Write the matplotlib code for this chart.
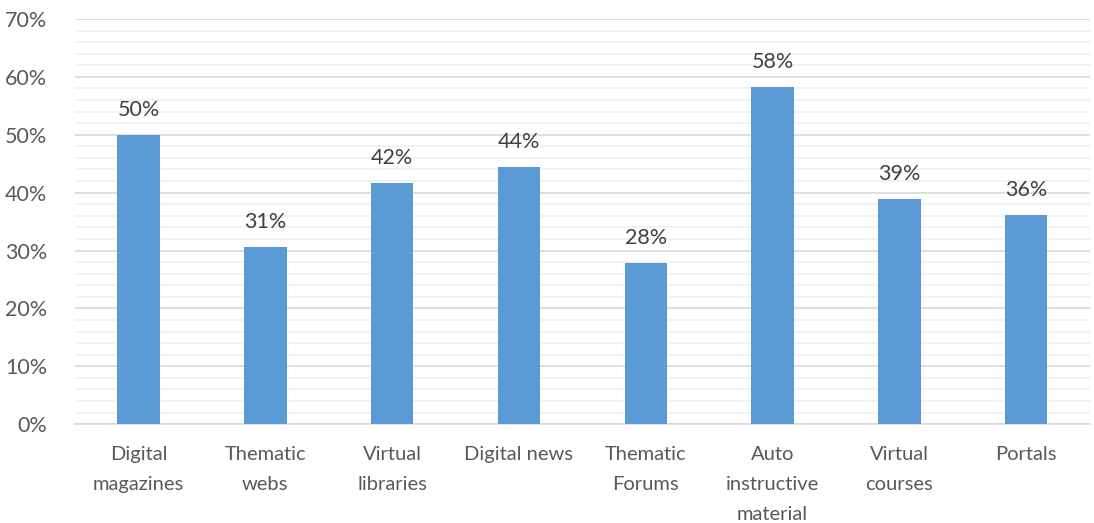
import numpy as np
import matplotlib
matplotlib.use("Agg")
import matplotlib.pyplot as plt
from matplotlib.ticker import MultipleLocator, PercentFormatter

# resource types and share of respondents using them (%)
categories = [
    "Digital\nmagazines",
    "Thematic\nwebs",
    "Virtual\nlibraries",
    "Digital news",
    "Thematic\nForums",
    "Auto\ninstructive\nmaterial",
    "Virtual\ncourses",
    "Portals",
]
values = [50.0, 30.6, 41.7, 44.4, 27.8, 58.3, 38.9, 36.1]

plt.rcParams["font.family"] = ["Lato", "DejaVu Sans"]

fig = plt.figure(figsize=(10.94, 5.23), dpi=100)
ax = fig.add_axes([0.0686, 0.189, 0.9274, 0.7747])

x = np.arange(len(categories))
bars = ax.bar(x, values, width=0.335, color="#5b9bd5", zorder=3)

for rect, v in zip(bars, values):
    ax.text(
        rect.get_x() + rect.get_width() / 2,
        v + 2.6,
        f"{v:.0f}%",
        ha="center",
        va="bottom",
        fontsize=15.5,
        color="#404040",
    )

ax.set_xlim(-0.5, len(categories) - 0.5)
ax.set_ylim(0, 70)
ax.yaxis.set_major_locator(MultipleLocator(10))
ax.yaxis.set_minor_locator(MultipleLocator(2))
ax.yaxis.set_major_formatter(PercentFormatter(decimals=0))
ax.grid(axis="y", which="major", color="#d9d9d9", linewidth=1.2, zorder=0)
ax.grid(axis="y", which="minor", color="#f0f0f0", linewidth=1.2, zorder=0)

ax.set_xticks(x)
ax.set_xticklabels(categories, fontsize=14.5, color="#595959", linespacing=1.92, va="top")
ax.tick_params(axis="x", length=0, pad=16)
ax.tick_params(axis="y", which="both", length=0, labelsize=15.5, labelcolor="#595959", pad=20)

for side in ["top", "right", "left"]:
    ax.spines[side].set_visible(False)
ax.spines["bottom"].set_color("#d9d9d9")
ax.spines["bottom"].set_linewidth(1.2)

plt.savefig("out.png", dpi=100)
